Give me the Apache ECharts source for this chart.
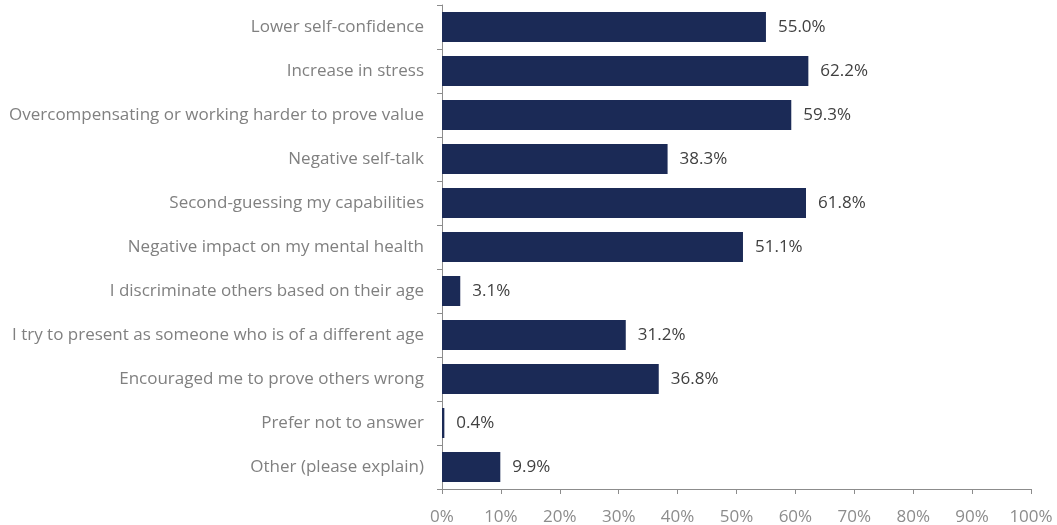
<!DOCTYPE html>
<html><head><meta charset="utf-8">
<script src="https://cdn.jsdelivr.net/npm/echarts@6/dist/echarts.min.js"></script>
<style>html,body{margin:0;padding:0;background:#fff}#c{width:1057px;height:525px}</style>
</head><body><div id="c"></div>
<script>
const categories = [
  "Lower self-confidence",
  "Increase in stress",
  "Overcompensating or working harder to prove value",
  "Negative self-talk",
  "Second-guessing my capabilities",
  "Negative impact on my mental health",
  "I discriminate others based on their age",
  "I try to present as someone who is of a different age",
  "Encouraged me to prove others wrong",
  "Prefer not to answer",
  "Other (please explain)"
];
const values = [55.0, 62.2, 59.3, 38.3, 61.8, 51.1, 3.1, 31.2, 36.8, 0.4, 9.9];
const xTicks = [0, 10, 20, 30, 40, 50, 60, 70, 80, 90, 100];

const chart = echarts.init(document.getElementById('c'), null, {renderer: 'canvas'});
const font = '"Open Sans", sans-serif';
chart.setOption({
  animation: false,
  grid: {left: 442, right: 26, top: 5, bottom: 36, containLabel: false, outerBoundsMode: 'none'},
  xAxis: {
    type: 'value', min: xTicks[0], max: xTicks[xTicks.length-1], interval: 10,
    axisLine: {show: true, lineStyle: {color: '#8c8c8c', width: 1}},
    axisTick: {show: true, length: 5, lineStyle: {color: '#8c8c8c'}},
    splitLine: {show: false},
    axisLabel: {formatter: v => v + '%', color: '#8c8c8c', fontSize: 17, fontFamily: font, margin: 20}
  },
  yAxis: {
    type: 'category', data: categories, inverse: true,
    axisLine: {show: true, lineStyle: {color: '#8c8c8c', width: 1}},
    axisTick: {show: true, length: 5, alignWithLabel: false, lineStyle: {color: '#8c8c8c'}},
    axisLabel: {color: '#808080', fontSize: 17, fontFamily: font, margin: 18}
  },
  series: [{
    type: 'bar', data: values, barWidth: 30,
    itemStyle: {color: '#1b2a56'},
    label: {show: true, position: 'right', distance: 12, formatter: p => p.value.toFixed(1) + '%', color: '#404040', fontSize: 17, fontFamily: font}
  }]
});
</script></body></html>
